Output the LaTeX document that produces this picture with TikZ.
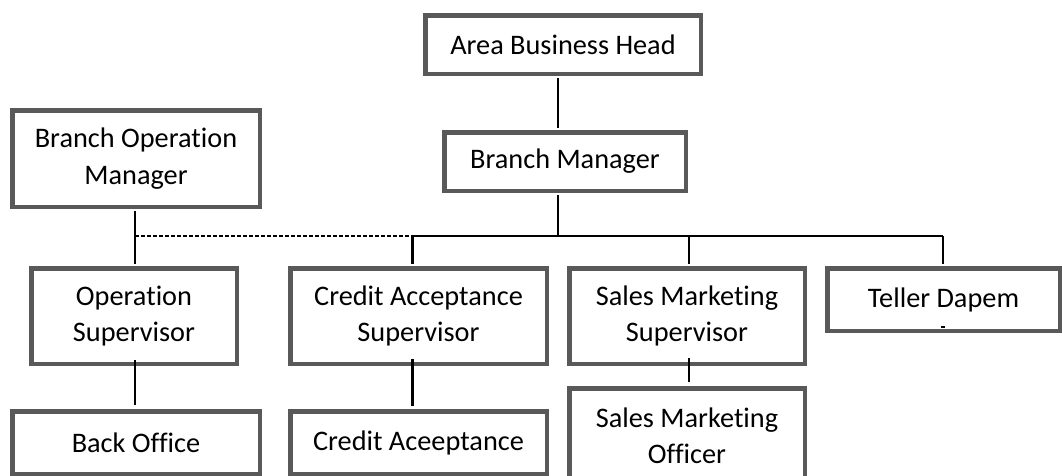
\documentclass[tikz,border=0pt]{standalone}
\usepackage{fontspec}
\setmainfont{Carlito}[Ligatures=NoCommon]
\definecolor{boxgray}{HTML}{595959}
\tikzset{
  orgbox/.style={draw=boxgray, line width=4.5pt, fill=white, align=center, inner sep=0pt,
    font={\fontsize{28.3}{36.5}\selectfont}},
  conn/.style={draw=black, line width=1.5pt},
  thickconn/.style={draw=black, line width=3pt},
  dashconn/.style={draw=black, line width=1.5pt, dash pattern=on 4pt off 2pt},
}
\begin{document}
\begin{tikzpicture}[x=1pt, y=-1pt]
\path[use as bounding box, clip] (0,0) rectangle (1062,475);
% column coordinates
\coordinate (cA) at (558,0);
\coordinate (cO) at (135,0);
\coordinate (cC) at (412,0);
\coordinate (cS) at (689,0);
\coordinate (cT) at (943,0);
\coordinate (busL) at (135,236);
\coordinate (busM) at (412,236);
\coordinate (busR) at (943,236);
% boxes
\node[orgbox, minimum width=275.5pt, minimum height=58.5pt] (abh) at (563,44.5) {Area Business Head};
\node[orgbox, minimum width=241.5pt, minimum height=58.5pt] (bm) at (565,161.5) {Branch Manager};
\node[orgbox, minimum width=247.5pt, minimum height=96.5pt] (bom) at (136,158.5) {Branch Operation\\Manager};
\node[orgbox, minimum width=205.5pt, minimum height=95.5pt] (ops) at (134,316) {Operation\\Supervisor};
\node[orgbox, minimum width=256.5pt, minimum height=95.5pt] (cas) at (418.5,316) {Credit Acceptance\\Supervisor};
\node[orgbox, minimum width=235.5pt, minimum height=95.5pt] (sms) at (687,316) {Sales Marketing\\Supervisor};
\node[orgbox, minimum width=232.5pt, minimum height=62.5pt] (tel) at (943.5,299.5) {Teller Dapem};
\node[orgbox, minimum width=247.5pt, minimum height=62.5pt] (bo) at (136,442.5) {Back Office};
\node[orgbox, minimum width=256.5pt, minimum height=62.5pt] (ca) at (418.5,442.5) {Credit Aceeptance};
\node[orgbox, minimum width=235.5pt, minimum height=95.5pt] (smo) at (687,436) {Sales Marketing\\Officer};
% connectors between levels (end at the outer border edge)
\draw[conn] ([yshift=-2.25pt]abh.south -| cA) -- ([yshift=2.25pt]bm.north -| cA);
\draw[conn] ([yshift=-2.25pt]bm.south -| cA) -- (busL -| cA);
\draw[dashconn] (busL) -- (busM);
\draw[conn] (busM) -- (busR);
\draw[conn] ([yshift=-2.25pt]bom.south -| cO) -- ([yshift=2.25pt]ops.north -| cO);
\draw[thickconn] (busM) -- ([yshift=2.25pt]cas.north -| cC);
\draw[conn] (busM -| cS) -- ([yshift=2.25pt]sms.north -| cS);
\draw[conn] (busR) -- ([yshift=2.25pt]tel.north -| cT);
% lower connectors (start inside the upper box, as in the picture)
\draw[conn] ([yshift=6pt]ops.south -| cO) -- ([yshift=4pt]bo.north -| cO);
\draw[thickconn] ([yshift=7pt]cas.south -| cC) -- ([yshift=3pt]ca.north -| cC);
\draw[conn] ([yshift=8pt]sms.south -| cS) -- ([yshift=4pt]smo.north -| cS);
% small mark under Teller Dapem
\draw[line width=2pt] ([xshift=-2pt,yshift=6pt]tel.south -| cT) -- ([xshift=2pt,yshift=6pt]tel.south -| cT);
\end{tikzpicture}
\end{document}
